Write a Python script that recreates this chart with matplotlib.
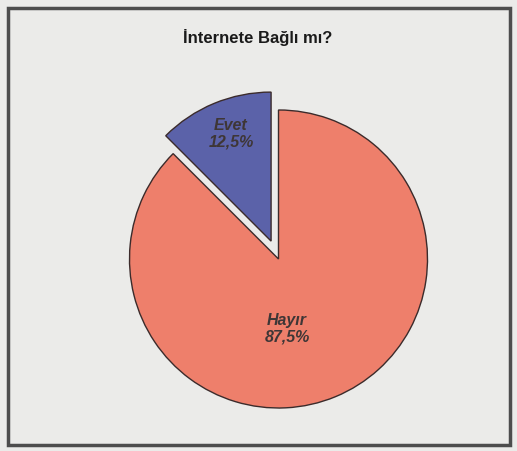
"""Pie chart: İnternete Bağlı mı?"""

import matplotlib.pyplot as plt
from matplotlib.patches import Rectangle

labels = ["Hayır", "Evet"]
shares = [87.5, 12.5]
colors = ["#ee7f6b", "#5b62a9"]
explode = [0.0, 0.13]
title = "İnternete Bağlı mı?"

W, H, DPI = 517, 451, 100
CX, CY, R = 278.5, 259.0, 149.0  # pie centre / radius in pixels (y from top)

plt.rcParams["font.family"] = ["Liberation Sans", "DejaVu Sans"]

fig = plt.figure(figsize=(W / DPI, H / DPI), dpi=DPI)
fig.patch.set_facecolor("#ebebe9")

# dark frame round the panel
fig.patches.append(
    Rectangle((8 / W, 6 / H), 502 / W, 437 / H, transform=fig.transFigure,
              fill=False, edgecolor="#4d4d4d", linewidth=2.5)
)

ax = fig.add_axes([0, 0, 1, 1])
ax.pie(
    shares,
    colors=colors,
    explode=explode,
    startangle=90,
    counterclock=False,
    radius=1.0,
    wedgeprops=dict(edgecolor="#3b2b2b", linewidth=1.0),
)
ax.set_xlim(-CX / R, (W - CX) / R)
ax.set_ylim(-(H - CY) / R, CY / R)
ax.set_aspect("equal", adjustable="box")
ax.axis("off")

# slice labels
label_pos = {"Hayır": (287.0, 328.5), "Evet": (231.0, 134.0)}
for name, val in zip(labels, shares):
    px, py = label_pos[name]
    txt = f"{name}\n{val:.1f}%".replace(".", ",")
    ax.text((px - CX) / R, (CY - py) / R, txt, ha="center", va="center",
            fontsize=11.5, fontstyle="italic", fontweight="bold",
            color="#3e3636", linespacing=1.1)

fig.text(258 / W, 1 - 37 / H, title, ha="center", va="center",
         fontsize=12, fontweight="bold", color="#1a1a1a")

fig.savefig("out.png", dpi=DPI, facecolor=fig.get_facecolor())
